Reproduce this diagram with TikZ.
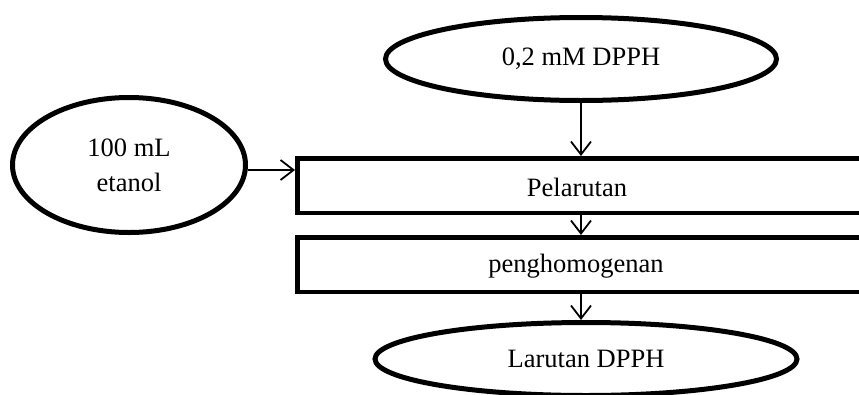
\documentclass[tikz,border=0pt]{standalone}
\usepackage{fontspec}
\setmainfont{Liberation Serif}
\usetikzlibrary{shapes.geometric,arrows.meta}
\begin{document}
\begin{tikzpicture}[x=1pt,y=-1pt,
  oval/.style={draw,ellipse,line width=5pt,inner sep=0pt,font=\fontsize{26.5}{35}\selectfont,align=center},
  box/.style={draw,rectangle,line width=4.5pt,inner sep=0pt,anchor=west},
  lbl/.style={font=\fontsize{26.5}{32}\selectfont,inner sep=0pt},
  conn/.style={line width=1.8pt,-{Straight Barb[length=13pt,width=20pt,line width=1.8pt]}}]
\useasboundingbox (0,0) rectangle (859,394);
\clip (0,0) rectangle (859,394);
\node[oval,minimum width=391pt,minimum height=83pt] (top) at (581,59) {0,2 mM DPPH};
\node[oval,minimum width=233pt,minimum height=135pt] (left) at (129,165) {100 mL\\etanol};
\node[box,minimum width=640pt,minimum height=54.5pt] (b1) at (295,185.5) {};
\node[lbl] (t1) at (577,187) {Pelarutan};
\node[box,minimum width=640pt,minimum height=54.5pt] (b2) at (295,264.5) {};
\node[lbl] (t2) at (576,266) {penghomogenan};
\node[oval,minimum width=422pt,minimum height=73pt] (bot) at (586,359) {Larutan DPPH};
\coordinate (in1) at (b1.west |- 0,170);
\draw[conn] (top.south -| 581,0) -- (b1.north -| 581,0);
\draw[conn] (in1 -| left.east) -- (in1);
\draw[conn] (b1.south -| 581,0) -- (b2.north -| 581,0);
\draw[conn] (b2.south -| 581,0) -- (bot.north -| 581,0);
\end{tikzpicture}
\end{document}
